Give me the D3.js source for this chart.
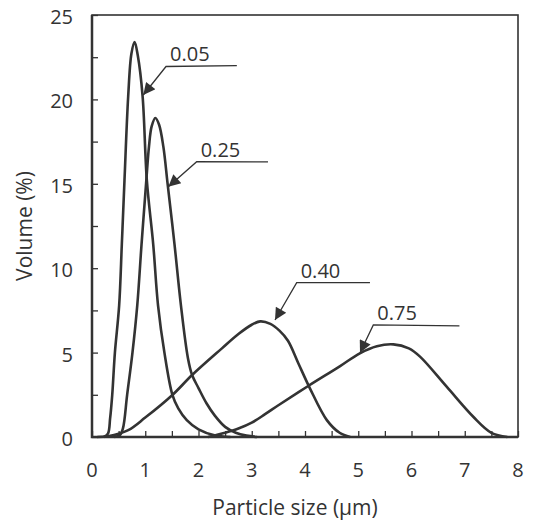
<!DOCTYPE html>
<html>
<head>
<meta charset="utf-8">
<script src="https://cdn.jsdelivr.net/npm/d3@7"></script>
<style>
  body { margin: 0; background: #fff; }
  text { font-family: "Open Sans", "Noto Sans", sans-serif; fill: #333; }
</style>
</head>
<body>
<script>
// particle size distributions: [size um, volume %]
var s005 = [[0.22,0],[0.3,0.2],[0.34,1.1],[0.38,2.5],[0.43,5.0],[0.51,7.8],[0.56,11.4],[0.61,15.2],[0.68,20.2],[0.74,22.7],[0.8,23.4],
  [0.86,22.6],[0.95,20.2],[1.03,15.2],[1.15,11.4],[1.24,7.8],[1.36,5.0],[1.51,2.5],[1.62,1.7],[1.78,1.0],[2.0,0.45],[2.3,0.1],[2.6,0]]
var s025 = [[0.42,0],[0.52,0.1],[0.58,0.5],[0.66,2.5],[0.76,5.0],[0.85,7.8],[0.93,11.4],[1.02,15.2],[1.07,17.2],[1.12,18.4],[1.19,18.9],
  [1.26,18.5],[1.34,17.2],[1.42,15.0],[1.55,11.4],[1.67,7.8],[1.8,4.7],[1.88,3.67],[2.0,2.9],[2.15,2.0],[2.31,1.25],[2.5,0.6],
  [2.7,0.25],[2.9,0.08],[3.1,0]]
var s040 = [[0.1,0],[0.3,0.05],[0.68,0.41],[1.0,1.15],[1.51,2.49],[1.88,3.67],[2.44,5.25],[2.75,6.1],[3.0,6.65],[3.16,6.85],
  [3.35,6.7],[3.52,6.3],[3.68,5.7],[3.87,4.4],[4.09,2.9],[4.41,1.0],[4.65,0.25],[4.85,0]]
var s075 = [[2.18,0],[2.5,0.25],[2.75,0.5],[3.0,0.85],[3.25,1.35],[3.5,1.88],[4.06,3.02],[4.66,4.2],[5.03,4.96],[5.35,5.38],[5.66,5.49],
  [5.95,5.25],[6.16,4.76],[6.66,2.98],[7.16,1.2],[7.5,0.25],[7.8,0]]

var series = [s005, s025, s040, s075]
var labels = ["0.05", "0.25", "0.40", "0.75"]

// callouts: arrow tip, elbow, end of the underline, all in data units
var tips   = [[0.963,20.26],[1.433,14.83],[3.437,6.93],[5.033,4.99]]
var elbows = [[1.39,21.95],[1.966,16.31],[3.844,9.14],[5.283,6.64]]
var ends   = [[2.72,22.0],[3.305,16.3],[5.22,9.14],[6.9,6.58]]

var xTicks = [0,1,2,3,4,5,6,7,8]
var yTicks = [0,5,10,15,20,25]

var W = 534, H = 523
var m = {left: 92, top: 15, right: 16, bottom: 86}
var iw = W - m.left - m.right, ih = H - m.top - m.bottom
var ink = "#333"

var svg = d3.select("body").append("svg").attr("width", W).attr("height", H)
var g = svg.append("g").attr("transform", "translate(" + m.left + "," + m.top + ")")

var x = d3.scaleLinear().domain([0, 8]).range([0, iw])
var y = d3.scaleLinear().domain([0, 25]).range([ih, 0])

// minor ticks point inwards, labels sit outside
g.append("g").attr("transform", "translate(0," + ih + ")")
  .call(d3.axisTop(x).tickValues(d3.range(0, 8.01, 0.5)).tickSize(6).tickFormat(""))
g.append("g")
  .call(d3.axisRight(y).tickValues(d3.range(0, 25.01, 2.5)).tickSize(6).tickFormat(""))
g.selectAll(".domain").remove()
g.selectAll(".tick line").attr("stroke", ink).attr("stroke-width", 1.3)

g.selectAll(".xl").data(xTicks).enter().append("text")
  .attr("x", function(d) { return x(d) }).attr("y", ih + 40)
  .attr("text-anchor", "middle").style("font-size", "20px").text(function(d) { return d })
g.selectAll(".yl").data(yTicks).enter().append("text")
  .attr("x", -19).attr("y", function(d) { return y(d) + 9 })
  .attr("text-anchor", "end").style("font-size", "20px").text(function(d) { return d })

// frame
g.append("rect").attr("width", iw).attr("height", ih)
  .attr("fill", "none").attr("stroke", ink).attr("stroke-width", 1.6)
g.append("path").attr("d", "M0,0V" + ih + "H" + iw)
  .attr("fill", "none").attr("stroke", ink).attr("stroke-width", 2.5)

var line = d3.line().x(function(d) { return x(d[0]) }).y(function(d) { return y(d[1]) })
  .curve(d3.curveCatmullRom.alpha(0.5))
g.selectAll(".curve").data(series).enter().append("path")
  .attr("d", line).attr("fill", "none").attr("stroke", ink).attr("stroke-width", 2.6)
  .attr("stroke-linejoin", "round")

// callouts
svg.append("defs").append("marker").attr("id", "ah")
  .attr("viewBox", "0 0 10 10").attr("refX", 10).attr("refY", 5)
  .attr("markerWidth", 15).attr("markerHeight", 12).attr("markerUnits", "userSpaceOnUse")
  .attr("orient", "auto")
  .append("path").attr("d", "M0,0L10,5L0,10Z").attr("fill", ink)

labels.forEach(function(lab, i) {
  g.append("path")
    .attr("d", "M" + x(ends[i][0]) + "," + y(ends[i][1]) + "L" + x(elbows[i][0]) + "," + y(elbows[i][1]) +
      "L" + x(tips[i][0]) + "," + y(tips[i][1]))
    .attr("fill", "none").attr("stroke", ink).attr("stroke-width", 1.3).attr("marker-end", "url(#ah)")
  g.append("text").attr("x", x(elbows[i][0]) + 4).attr("y", y(elbows[i][1]) - 5)
    .style("font-size", "20px").text(lab)
})

g.append("text").attr("x", iw / 2 - 10).attr("y", ih + 78).attr("text-anchor", "middle")
  .style("font-size", "21px").text("Particle size (\u03bcm)")
g.append("text").attr("transform", "translate(-60," + ih / 2 + ") rotate(-90)")
  .attr("text-anchor", "middle").style("font-size", "21px").text("Volume (%)")
</script>
</body>
</html>
